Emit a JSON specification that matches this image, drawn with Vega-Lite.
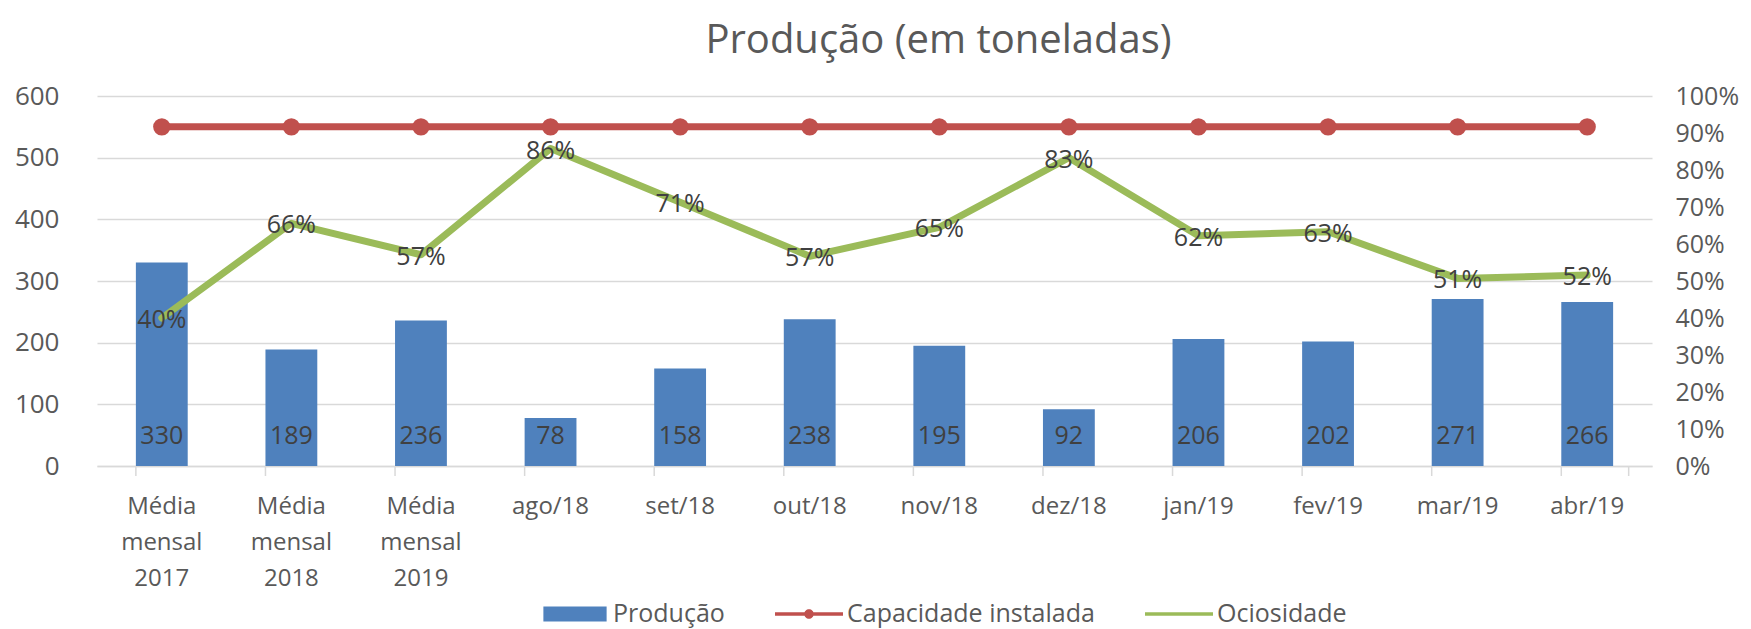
{
  "$schema": "https://vega.github.io/schema/vega-lite/v6.json",
  "autosize": {"type": "none"},
  "width": 1555,
  "height": 370,
  "padding": {"left": 97, "top": 96, "right": 99, "bottom": 163},
  "background": "white",
  "config": {
    "view": {"stroke": null},
    "font": "Open Sans",
    "axis": {"labelFont": "Open Sans", "labelColor": "#595959", "labelFontSize": 25, "labelOverlap": false}
  },
  "title": {
    "text": "Produção (em toneladas)",
    "font": "Open Sans",
    "fontSize": 40,
    "fontWeight": "normal",
    "color": "#595959",
    "anchor": "middle",
    "offset": 22,
    "dx": 64
  },
  "data": {
    "values": [
      {"cat": "Média mensal 2017", "prod": 330, "cap": 550, "ocio": 0.40},
      {"cat": "Média mensal 2018", "prod": 189, "cap": 550, "ocio": 0.656},
      {"cat": "Média mensal 2019", "prod": 236, "cap": 550, "ocio": 0.571},
      {"cat": "ago/18", "prod": 78, "cap": 550, "ocio": 0.858},
      {"cat": "set/18", "prod": 158, "cap": 550, "ocio": 0.713},
      {"cat": "out/18", "prod": 238, "cap": 550, "ocio": 0.567},
      {"cat": "nov/18", "prod": 195, "cap": 550, "ocio": 0.645},
      {"cat": "dez/18", "prod": 92, "cap": 550, "ocio": 0.833},
      {"cat": "jan/19", "prod": 206, "cap": 550, "ocio": 0.622},
      {"cat": "fev/19", "prod": 202, "cap": 550, "ocio": 0.633},
      {"cat": "mar/19", "prod": 271, "cap": 550, "ocio": 0.507},
      {"cat": "abr/19", "prod": 266, "cap": 550, "ocio": 0.516}
    ]
  },
  "encoding": {
    "x": {
      "field": "cat",
      "type": "nominal",
      "sort": null,
      "title": null,
      "scale": {"paddingInner": 0.6, "paddingOuter": 0.3},
      "axis": {
        "labelAngle": 0,
        "labelFontSize": 24,
        "labelLineHeight": 36,
        "labelPadding": 28,
        "labelExpr": "indexof(datum.value, 'Média') == 0 ? split(datum.value, ' ') : datum.value",
        "ticks": false,
        "tickSize": 0,
        "domainColor": "#d9d9d9",
        "domainWidth": 1.5,
        "grid": false
      }
    }
  },
  "layer": [
    {
      "layer": [
        {
          "mark": {"type": "bar", "color": "#4F81BD"},
          "encoding": {
            "y": {
              "field": "prod",
              "type": "quantitative",
              "title": null,
              "scale": {"domain": [0, 600], "nice": false},
              "axis": {
                "orient": "left",
                "values": [0, 100, 200, 300, 400, 500, 600],
                "labelFontSize": 26,
                "domain": false,
                "ticks": false,
                "tickSize": 0,
                "labelPadding": 38,
                "grid": true,
                "gridColor": "#d9d9d9",
                "gridWidth": 1.5
              }
            },
            "color": {
              "datum": "Produção",
              "type": "nominal",
              "scale": {
                "domain": ["Produção", "Capacidade instalada", "Ociosidade"],
                "range": ["#4F81BD", "#C0504D", "#9BBB59"]
              },
              "legend": {
                "title": null,
                "orient": "none",
                "direction": "horizontal",
                "legendX": 444,
                "legendY": 484,
                "padding": 0,
                "symbolSize": 4624,
                "labelOffset": 4,
                "columnPadding": 50,
                "labelLimit": 400,
                "labelFont": "Open Sans",
                "labelFontSize": 25,
                "labelColor": "#595959",
                "encode": {
                  "symbols": {
                    "update": {
                      "shape": {"signal": "datum.value === 'Produção' ? 'M-0.93,-0.22H0.93V0.22H-0.93Z' : datum.value === 'Capacidade instalada' ? 'M-1,-0.05H1V0.05H-1Z M-0.14,0A0.14,0.14 0 1,1 0.14,0A0.14,0.14 0 1,1 -0.14,0Z' : 'M-1,-0.05H1V0.05H-1Z'"},
                      "fill": {"scale": "color", "field": "value"},
                      "stroke": {"value": "transparent"},
                      "strokeWidth": {"value": 0},
                      "opacity": {"value": 1},
                      "fillOpacity": {"value": 1}
                    }
                  }
                }
              }
            }
          }
        },
        {
          "mark": {"type": "rule", "color": "#d9d9d9", "strokeWidth": 1.5, "y": {"expr": "height"}, "y2": {"expr": "height + 10"}},
          "encoding": {
            "x": {"field": "cat", "type": "nominal", "sort": null, "bandPosition": 0}
          }
        },
        {
          "transform": [{"filter": "datum.cat === 'abr/19'"}],
          "mark": {"type": "rule", "color": "#d9d9d9", "strokeWidth": 1.5, "y": {"expr": "height"}, "y2": {"expr": "height + 10"}},
          "encoding": {
            "x": {"field": "cat", "type": "nominal", "sort": null, "bandPosition": 1.3}
          }
        },
        {
          "mark": {"type": "text", "font": "Open Sans", "fontSize": 25, "color": "#404040", "baseline": "middle", "dy": -30, "y": {"expr": "height"}},
          "encoding": {
            "text": {"field": "prod", "type": "quantitative"}
          }
        },
        {
          "mark": {"type": "line", "strokeWidth": 7, "strokeJoin": "round"},
          "encoding": {
            "y": {"field": "cap", "type": "quantitative"},
            "color": {"datum": "Capacidade instalada", "type": "nominal"}
          }
        },
        {
          "mark": {"type": "point", "filled": true, "size": 300, "opacity": 1},
          "encoding": {
            "y": {"field": "cap", "type": "quantitative"},
            "color": {"datum": "Capacidade instalada", "type": "nominal"}
          }
        }
      ]
    },
    {
      "layer": [
        {
          "mark": {"type": "line", "strokeWidth": 7, "strokeJoin": "round", "strokeCap": "round"},
          "encoding": {
            "y": {
              "field": "ocio",
              "type": "quantitative",
              "title": null,
              "scale": {"domain": [0, 1], "nice": false},
              "axis": {
                "orient": "right",
                "format": ".0%",
                "values": [0, 0.1, 0.2, 0.3, 0.4, 0.5, 0.6, 0.7, 0.8, 0.9, 1],
                "labelOverlap": false,
                "domain": false,
                "ticks": false,
                "tickSize": 0,
                "labelPadding": 23,
                "grid": false
              }
            },
            "color": {"datum": "Ociosidade", "type": "nominal"}
          }
        },
        {
          "mark": {"type": "text", "font": "Open Sans", "fontSize": 25, "color": "#404040", "baseline": "middle", "dy": 2},
          "encoding": {
            "y": {
              "field": "ocio",
              "type": "quantitative",
              "title": null,
              "axis": {
                "orient": "right",
                "format": ".0%",
                "values": [0, 0.1, 0.2, 0.3, 0.4, 0.5, 0.6, 0.7, 0.8, 0.9, 1],
                "labelOverlap": false,
                "domain": false,
                "ticks": false,
                "tickSize": 0,
                "labelPadding": 23,
                "grid": false
              }
            },
            "text": {"field": "ocio", "type": "quantitative", "format": ".0%"}
          }
        }
      ]
    }
  ],
  "resolve": {"scale": {"y": "independent"}}
}
